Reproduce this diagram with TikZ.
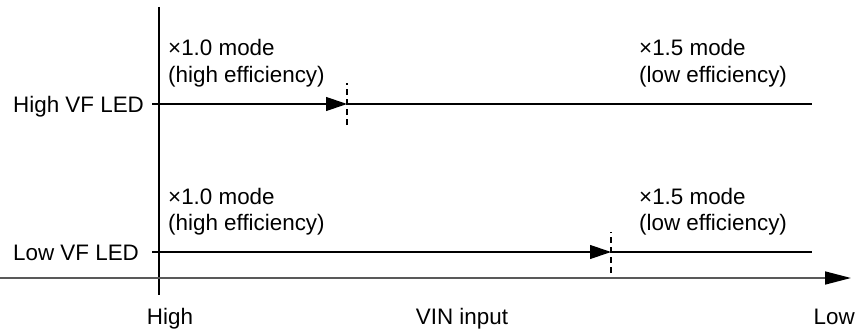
\documentclass[tikz,border=0pt]{standalone}
\usepackage{fontspec}
\setmainfont{Liberation Sans}
\usetikzlibrary{arrows.meta}
\begin{document}
\begin{tikzpicture}[x=1pt,y=-1pt,
  lbl/.style={inner sep=0pt,font=\fontsize{22.4}{26}\selectfont},
  led/.style={line width=1.2pt,black},
  ledthick/.style={line width=1.8pt,black},
  tip/.style={-{Triangle[length=21pt,width=14pt]}},
  cut/.style={line width=1.2pt,dash pattern=on 6pt off 4pt},
  axisline/.style={line width=1.6pt,black!65}]
\useasboundingbox (0,0) rectangle (857,329);
% labels
\node[lbl,anchor=base west] (hled) at (13,112) {High VF LED};
\node[lbl,anchor=base west] (lled) at (13,260) {Low VF LED};
\node[lbl,anchor=base] (hi) at (170,324) {High};
\node[lbl,anchor=base] (vin) at (462,324) {VIN input};
\node[lbl,anchor=base east] (lo) at (855,324) {Low};
% mode texts
\node[lbl,anchor=base west] (a1) at (168,56) {×1.0 mode};
\node[lbl,anchor=base west] (a2) at (168,82) {(high efficiency)};
\node[lbl,anchor=base west] (b1) at (639,56) {×1.5 mode};
\node[lbl,anchor=base west] (b2) at (639,82) {(low efficiency)};
\node[lbl,anchor=base west] (c1) at (168,204) {×1.0 mode};
\node[lbl,anchor=base west] (c2) at (168,230) {(high efficiency)};
\node[lbl,anchor=base west] (d1) at (639,204) {×1.5 mode};
\node[lbl,anchor=base west] (d2) at (639,230) {(low efficiency)};
% coordinates
\coordinate (vtop) at (159,7);
\coordinate (vbot) at (159,295);
\coordinate (hs) at (152,104);
\coordinate (hm) at (347,104);
\coordinate (he) at (812,104);
\coordinate (ls) at (152,252);
\coordinate (lm) at (611,252);
\coordinate (le) at (812,252);
\coordinate (xs) at (0,278);
\coordinate (xe) at (851,278);
% axes
\draw[line width=1.2pt] (vtop) -- (vbot);
\draw[axisline,-{Triangle[length=26pt,width=13pt,color=black,fill=black]}] (xs) -- (xe);
% LED lines
\draw[led,tip] (hs) -- (hm);
\draw[ledthick] (hm) -- (he);
\draw[cut] ([yshift=-21pt]hm) -- ([yshift=21pt]hm);
\draw[led,tip] (ls) -- (lm);
\draw[ledthick] (lm) -- (le);
\draw[cut] ([yshift=-21pt]lm) -- ([yshift=20pt]lm);
\end{tikzpicture}
\end{document}
